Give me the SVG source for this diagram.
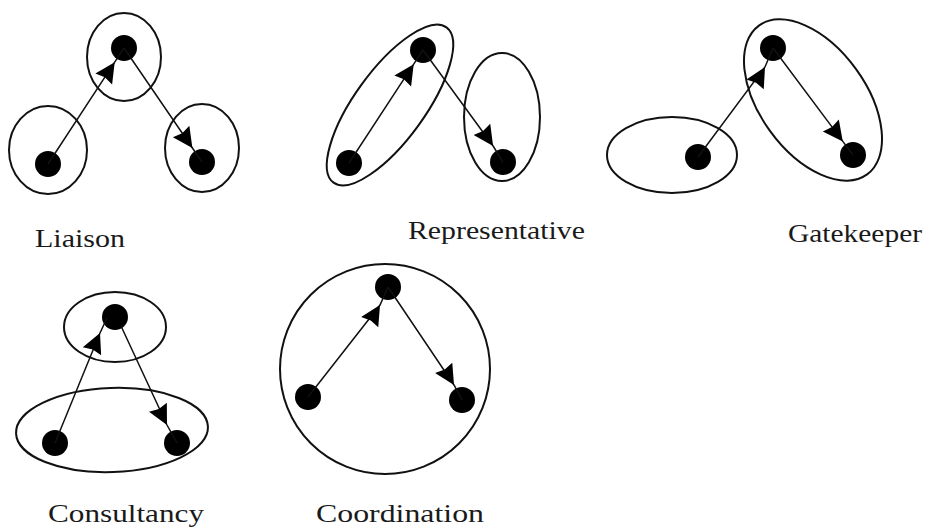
<svg xmlns="http://www.w3.org/2000/svg" width="926" height="530" viewBox="0 0 926 530">
  <style>
    .ring { fill: none; stroke: #111; stroke-width: 2; }
    .dot { fill: #000; }
    .edge { fill: none; stroke: #111; stroke-width: 1.5; marker-mid: url(#ah); }
    .lbl { font-family: "Liberation Serif", "Times New Roman", serif; font-size: 26px; fill: #1a1a1a; }
  </style>
  <defs>
    <marker id="ah" markerUnits="userSpaceOnUse" markerWidth="24" markerHeight="24" refX="0" refY="0" viewBox="-22 -12 24 24" orient="auto">
      <path d="M0,0 L-20,-10 L-18,0 L-20,10 Z" fill="#000"/>
    </marker>
  </defs>
  <rect width="926" height="530" fill="#fff"/>

  <!-- Liaison -->
  <g id="liaison">
    <g id="liaison-ring-top"><ellipse class="ring" cx="124" cy="57" rx="37" ry="44"/></g>
    <g id="liaison-ring-left"><ellipse class="ring" cx="48" cy="150" rx="39" ry="44"/></g>
    <g id="liaison-ring-right"><ellipse class="ring" cx="202" cy="148" rx="37" ry="44"/></g>
    <g id="liaison-node-top"><circle class="dot" cx="124" cy="48" r="13"/></g>
    <g id="liaison-node-left"><circle class="dot" cx="48" cy="164" r="13"/></g>
    <g id="liaison-node-right"><circle class="dot" cx="202" cy="162" r="13"/></g>
    <text class="lbl" x="35" y="247" textLength="90" lengthAdjust="spacingAndGlyphs">Liaison</text>
  </g>

  <!-- Representative -->
  <g id="representative">
    <g id="rep-ring-left"><ellipse class="ring" cx="390" cy="105" rx="96" ry="35" transform="rotate(-54 390 105)"/></g>
    <g id="rep-ring-right"><ellipse class="ring" cx="502" cy="117" rx="38" ry="64"/></g>
    <g id="rep-node-top"><circle class="dot" cx="423" cy="50" r="13"/></g>
    <g id="rep-node-left"><circle class="dot" cx="349" cy="163" r="13"/></g>
    <g id="rep-node-right"><circle class="dot" cx="503" cy="162" r="13"/></g>
    <text class="lbl" x="408" y="239" textLength="177" lengthAdjust="spacingAndGlyphs">Representative</text>
  </g>

  <!-- Gatekeeper -->
  <g id="gatekeeper">
    <g id="gate-ring-left"><ellipse class="ring" cx="672" cy="155" rx="65" ry="38"/></g>
    <g id="gate-ring-right"><ellipse class="ring" cx="813" cy="100" rx="92" ry="53" transform="rotate(54 813 100)"/></g>
    <g id="gate-node-top"><circle class="dot" cx="773" cy="48" r="13"/></g>
    <g id="gate-node-left"><circle class="dot" cx="698" cy="157" r="13"/></g>
    <g id="gate-node-right"><circle class="dot" cx="853" cy="155" r="13"/></g>
    <text class="lbl" x="788" y="242" textLength="134" lengthAdjust="spacingAndGlyphs">Gatekeeper</text>
  </g>

  <!-- Consultancy -->
  <g id="consultancy">
    <g id="cons-ring-top"><ellipse class="ring" cx="115" cy="327" rx="51" ry="35"/></g>
    <g id="cons-ring-bottom"><ellipse class="ring" cx="112" cy="430" rx="96" ry="42" transform="rotate(-2 112 430)"/></g>
    <g id="cons-node-top"><circle class="dot" cx="115" cy="317" r="13"/></g>
    <g id="cons-node-left"><circle class="dot" cx="55" cy="443" r="13"/></g>
    <g id="cons-node-right"><circle class="dot" cx="177" cy="443" r="13"/></g>
    <text class="lbl" x="48" y="522" textLength="156" lengthAdjust="spacingAndGlyphs">Consultancy</text>
  </g>

  <!-- Coordination -->
  <g id="coordination">
    <g id="coord-ring"><circle class="ring" cx="385" cy="369" r="105"/></g>
    <g id="coord-node-top"><circle class="dot" cx="388" cy="287" r="13"/></g>
    <g id="coord-node-left"><circle class="dot" cx="308" cy="397" r="13"/></g>
    <g id="coord-node-right"><circle class="dot" cx="462" cy="400" r="13"/></g>
    <text class="lbl" x="316" y="522" textLength="168" lengthAdjust="spacingAndGlyphs">Coordination</text>
  </g>

  <!-- Connectors -->
  <g id="connectors">
    <path class="edge" d="M48,164 L114.7,62.2 L124,48"/>
    <path class="edge" d="M124,48 L192.4,148 L202,162"/>
    <path class="edge" d="M349,163 L413.7,64.2 L423,50"/>
    <path class="edge" d="M423,50 L493.1,146 L503,162"/>
    <path class="edge" d="M698,157 L765,67 L773,48"/>
    <path class="edge" d="M773,48 L842.8,141.4 L853,155"/>
    <path class="edge" d="M55,443 L100,333 L107,318"/>
    <path class="edge" d="M121,326 L167,425 L177,443"/>
    <path class="edge" d="M308,397 L380,305 L388,287"/>
    <path class="edge" d="M388,287 L454,385 L462,400"/>
  </g>
</svg>
